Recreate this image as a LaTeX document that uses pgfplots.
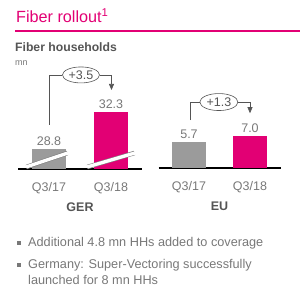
\documentclass[border=0pt]{standalone}
\usepackage{pgfplots}
\pgfplotsset{compat=1.18}
\usetikzlibrary{shapes.geometric,arrows.meta}
\usepackage{fontspec}
\setmainfont{Liberation Sans}
\definecolor{tmag}{HTML}{E20074}
\definecolor{tgrey}{HTML}{9B9B9B}
\definecolor{txt}{HTML}{555555}
\definecolor{ltxt}{HTML}{787878}
\pgfplotsset{
  myaxis/.style={
    scale only axis, anchor=south west,
    xmin=-0.5, xmax=1.5,
    axis x line=bottom, axis y line=none,
    x axis line style={line width=1.8pt,-},
    xtick={0,1}, xticklabels={Q3/17,Q3/18},
    major tick length=0pt,
    xticklabel style={text=ltxt, font=\fontsize{12.5}{14}\selectfont, yshift=-10pt},
    xlabel style={text=txt, font=\fontsize{12.5}{14}\selectfont\bfseries, yshift=-2pt},
    clip mode=individual,
    /pgf/number format/assume math mode=true,
    /pgf/number format/fixed, /pgf/number format/precision=1, /pgf/number format/fixed zerofill,
    every node near coord/.append style={text=ltxt, font=\fontsize{12.5}{14}\selectfont},
  },
  mybar/.style={ybar, bar width=34pt, bar shift=0pt, draw=none, fill=#1, nodes near coords},
}
\tikzset{
  brk/.style={line width=4.5pt, color=black!50},
  brkw/.style={line width=3.3pt, color=white},
  ell/.style={draw=txt, line width=0.6pt, ellipse, inner sep=0pt, text=txt, font=\fontsize{12.5}{14}\selectfont},
  brack/.style={draw=txt, line width=0.6pt},
}
\begin{document}
\begin{tikzpicture}[x=1pt,y=1pt]
\useasboundingbox (0,0) rectangle (300,-296);
\node[anchor=base west, text=tmag, font=\fontsize{16.2}{18}\selectfont, inner sep=0] at (16,-22.5) {Fiber rollout\textsuperscript{1}};
\draw[tmag, line width=2.5pt] (15,-31) -- (300,-31);
\node[anchor=base west, text=txt, font=\fontsize{12.2}{14}\selectfont\bfseries, inner sep=0] at (15,-52) {Fiber households};
\node[anchor=base west, text=ltxt, font=\fontsize{9}{10}\selectfont, inner sep=0] at (15,-66) {mn};

% GER
\begin{axis}[myaxis, at={(18pt,-169pt)}, width=124pt, height=96.5pt,
  ymin=26.9, ymax=36, xlabel={GER}]
\addplot[mybar=tgrey] coordinates {(0,28.8)};
\addplot[mybar=tmag] coordinates {(1,32.3)};
\draw[brk] (axis cs:-0.363,27.09) -- (axis cs:0.298,28.41);
\draw[brkw] (axis cs:-0.37,27.09) -- (axis cs:0.305,28.41);
\draw[brk] (axis cs:0.621,27.09) -- (axis cs:1.379,28.41);
\draw[brkw] (axis cs:0.614,27.09) -- (axis cs:1.386,28.41);
\node[ell, minimum width=37pt, minimum height=16pt] (e1) at (axis cs:0.516,35.77) {+3.5};
\draw[brack] (axis cs:0.008,31.05) |- (e1.west);
\draw[brack, -{Triangle[length=6pt,width=5pt]}] (e1.east) -| (axis cs:1.008,34.35);
\end{axis}

% EU
\begin{axis}[myaxis, at={(158.5pt,-168pt)}, width=122pt, height=68.5pt,
  ymin=0, ymax=15, xlabel={EU}]
\addplot[mybar=tgrey] coordinates {(0,5.7)};
\addplot[mybar=tmag] coordinates {(1,7.0)};
\node[ell, minimum width=38pt, minimum height=17pt] (e2) at (axis cs:0.49,14.44) {+1.3};
\draw[brack] (axis cs:0.016,10.5) |- (e2.west);
\draw[brack, -{Triangle[length=6pt,width=5pt]}] (e2.east) -| (axis cs:1.0,12.0);
\end{axis}

% bullets
\fill[ltxt] (16.5,-241) rectangle (20.5,-245);
\fill[ltxt] (16.5,-263) rectangle (20.5,-267);
\node[anchor=base west, text=ltxt, font=\fontsize{12.7}{16}\selectfont, inner sep=0] at (28,-247) {Additional 4.8 mn HHs added to coverage};
\node[anchor=base west, text=ltxt, font=\fontsize{12.7}{16}\selectfont, inner sep=0] at (28,-269) {Germany: Super-Vectoring successfully};
\node[anchor=base west, text=ltxt, font=\fontsize{12.7}{16}\selectfont, inner sep=0] at (28,-285) {launched for 8 mn HHs};
\end{tikzpicture}
\end{document}
